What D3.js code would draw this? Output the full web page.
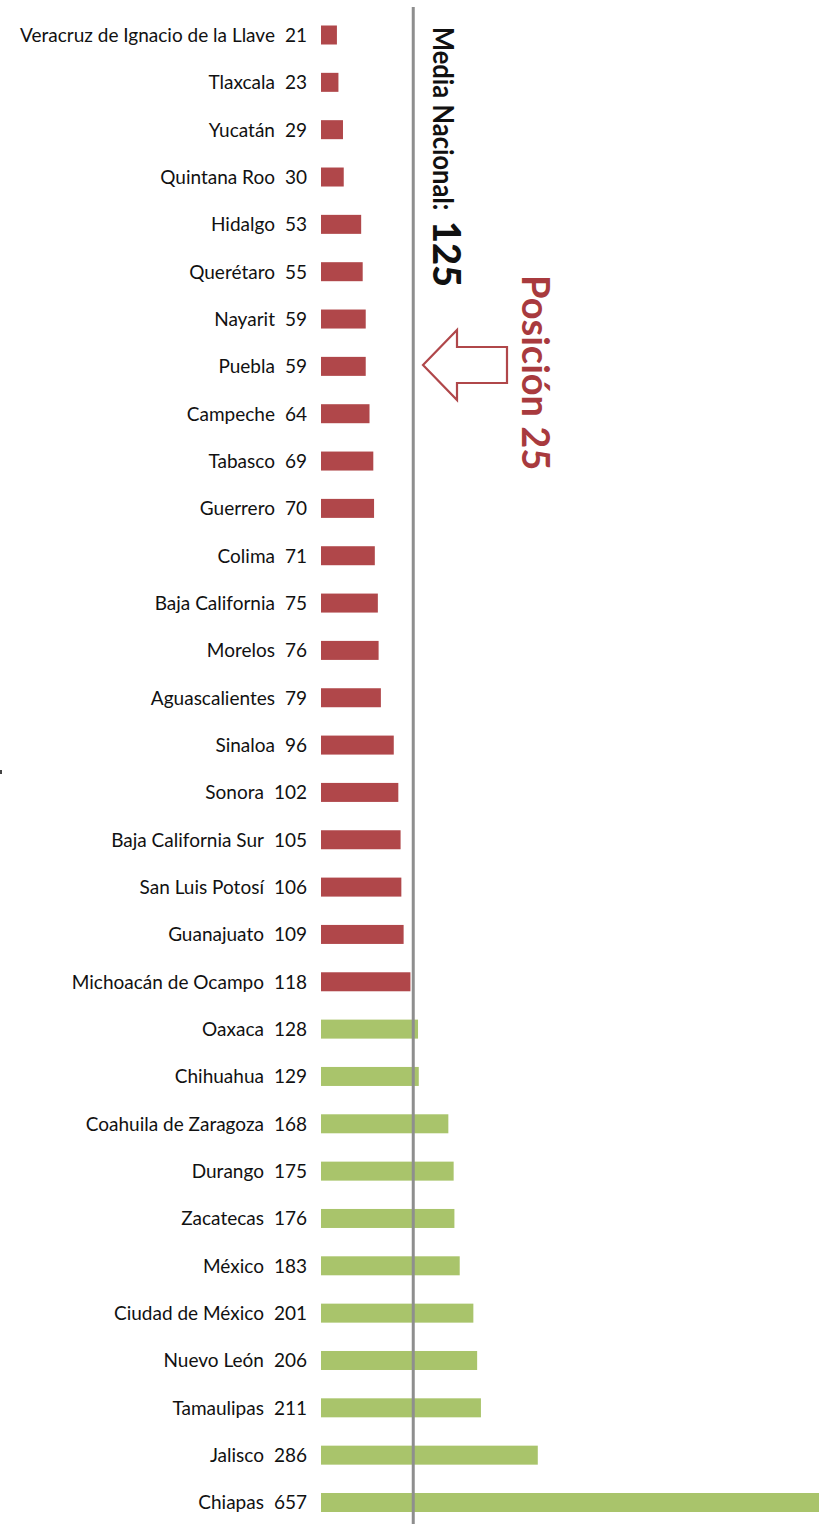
<!DOCTYPE html>
<html>
<head>
<meta charset="utf-8">
<script src="https://cdn.jsdelivr.net/npm/d3@7"></script>
<style>
  html, body { margin: 0; padding: 0; background: #fff; }
  svg { display: block; }
</style>
</head>
<body>
<svg id="chart" width="828" height="1524"></svg>
<script>
const states = [
  "Veracruz de Ignacio de la Llave", "Tlaxcala", "Yucatán", "Quintana Roo", "Hidalgo",
  "Querétaro", "Nayarit", "Puebla", "Campeche", "Tabasco", "Guerrero", "Colima",
  "Baja California", "Morelos", "Aguascalientes", "Sinaloa", "Sonora",
  "Baja California Sur", "San Luis Potosí", "Guanajuato", "Michoacán de Ocampo",
  "Oaxaca", "Chihuahua", "Coahuila de Zaragoza", "Durango", "Zacatecas", "México",
  "Ciudad de México", "Nuevo León", "Tamaulipas", "Jalisco", "Chiapas"
];
const values = [21, 23, 29, 30, 53, 55, 59, 59, 64, 69, 70, 71, 75, 76, 79, 96, 102,
  105, 106, 109, 118, 128, 129, 168, 175, 176, 183, 201, 206, 211, 286, 657];
const mediaNacional = 125;
const mediaLabel = "Media Nacional:";
const posicionLabel = "Posición 25";

const data = states.map((s, i) => ({ state: s, value: values[i] }));

const svg = d3.select("#chart");
const x = d3.scaleLinear().domain([0, 657]).range([321, 819]);
const y = d3.scalePoint().domain(states).range([35, 1502.5]);
const barH = 19;
const red = "#b0474a", green = "#a9c46b";

// bars
svg.append("g").selectAll("rect").data(data).join("rect")
  .attr("x", x(0))
  .attr("y", d => y(d.state) - barH / 2)
  .attr("width", d => x(d.value) - x(0))
  .attr("height", barH)
  .attr("fill", d => d.value < mediaNacional ? red : green);

// labels
const lab = svg.append("g")
  .attr("font-family", "Lato, 'Open Sans', sans-serif")
  .attr("font-size", 19)
  .attr("fill", "#111");
const t = lab.selectAll("text").data(data).join("text")
  .attr("x", 307)
  .attr("y", d => y(d.state))
  .attr("dy", "0.36em")
  .attr("text-anchor", "end");
t.append("tspan").text(d => d.state);
t.append("tspan").attr("dx", 10).text(d => d.value);

// national mean line
const mx = x(mediaNacional) - 2.5;
svg.append("line")
  .attr("x1", mx).attr("x2", mx)
  .attr("y1", 7).attr("y2", 1524)
  .attr("stroke", "#8e8e8e").attr("stroke-width", 3);

// rotated media text
svg.append("text")
  .attr("transform", "translate(433,27) rotate(90) scale(0.88,1)")
  .attr("font-family", "Lato, 'Open Sans', sans-serif")
  .attr("font-size", 29)
  .attr("font-weight", 700)
  .attr("fill", "#111")
  .text(mediaLabel);
svg.append("text")
  .attr("transform", "translate(433,221) rotate(90)")
  .attr("font-family", "Lato, 'Open Sans', sans-serif")
  .attr("font-size", 38)
  .attr("font-weight", 900)
  .attr("fill", "#111")
  .text(mediaNacional);

// rotated posicion text
svg.append("text")
  .attr("transform", "translate(522,275) rotate(90)")
  .attr("font-family", "Lato, 'Open Sans', sans-serif")
  .attr("font-size", 38)
  .attr("font-weight", 700)
  .attr("fill", "#a83a3e")
  .text(posicionLabel);

// arrow
svg.append("path")
  .attr("d", "M423,365 L457,330 L457,347 L507,347 L507,383 L457,383 L457,400 Z")
  .attr("fill", "none")
  .attr("stroke", "#b0474a")
  .attr("stroke-width", 2.2)
  .attr("stroke-linejoin", "miter");

// small artifact mark at left edge
svg.append("rect").attr("x", 0).attr("y", 770).attr("width", 2).attr("height", 4).attr("fill", "#444");
</script>
</body>
</html>
